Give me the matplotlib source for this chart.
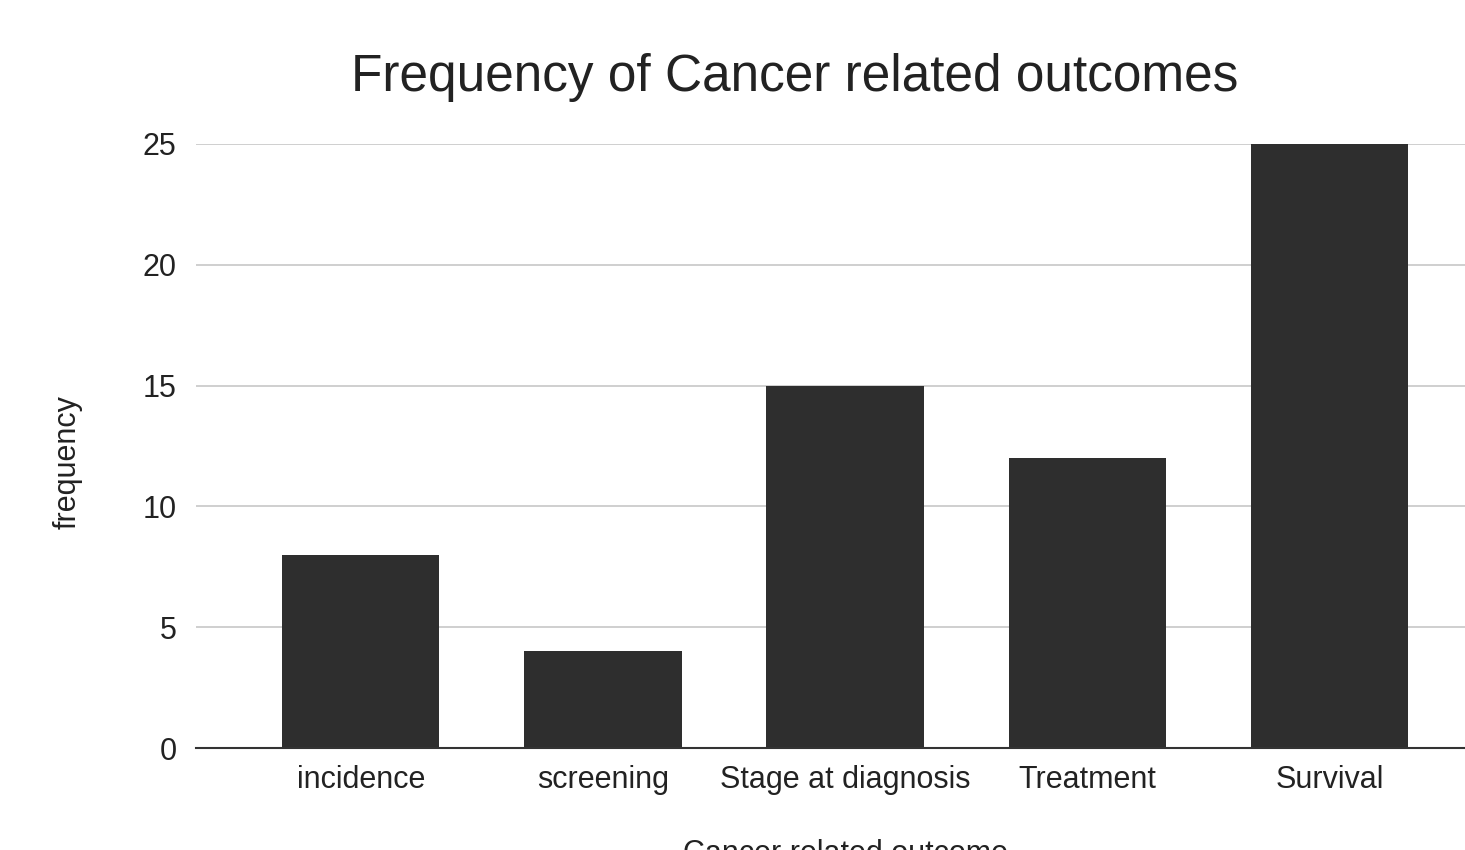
import numpy as np
import matplotlib.pyplot as plt

plt.rcParams['font.family'] = ['Liberation Sans', 'DejaVu Sans']

outcomes = ["incidence", "screening", "Stage at diagnosis", "Treatment", "Survival"]
frequency = [8, 4, 15, 12, 25]
y_ticks = [0, 5, 10, 15, 20, 25]

fig = plt.figure(figsize=(14.65, 8.5), dpi=100)
ax = fig.add_axes([0.1338, 0.12, 0.8662, 0.7106])

x = np.arange(len(outcomes))
ax.bar(x, frequency, width=0.65, color="#2e2e2e", zorder=3)

ax.set_xlim(-0.68, 4.56)
ax.set_ylim(0, 25)
ax.set_yticks(y_ticks)
ax.set_xticks(x)
ax.set_xticklabels(outcomes, fontsize=22, color="#222222")
ax.tick_params(axis="y", labelsize=22, labelcolor="#222222", length=0, pad=14)
ax.tick_params(axis="x", length=0, pad=12)
ax.grid(axis="y", color="#cccccc", linewidth=1.3, zorder=0)

for side in ["top", "right", "left"]:
    ax.spines[side].set_visible(False)
ax.spines["bottom"].set_color("#333333")
ax.spines["bottom"].set_linewidth(1.5)
ax.spines["bottom"].set_zorder(4)

fig.text(0.5426, 0.909, "Frequency of Cancer related outcomes", fontsize=37,
         color="#222222", ha="center", va="center")
fig.text(0.0464, 0.456, "frequency", fontsize=22, color="#222222",
         rotation=90, ha="center", va="center")
fig.text(0.577, -0.005, "Cancer related outcome", fontsize=22, color="#222222",
         ha="center", va="center")

fig.savefig("out.png", dpi=100)
plt.close(fig)
